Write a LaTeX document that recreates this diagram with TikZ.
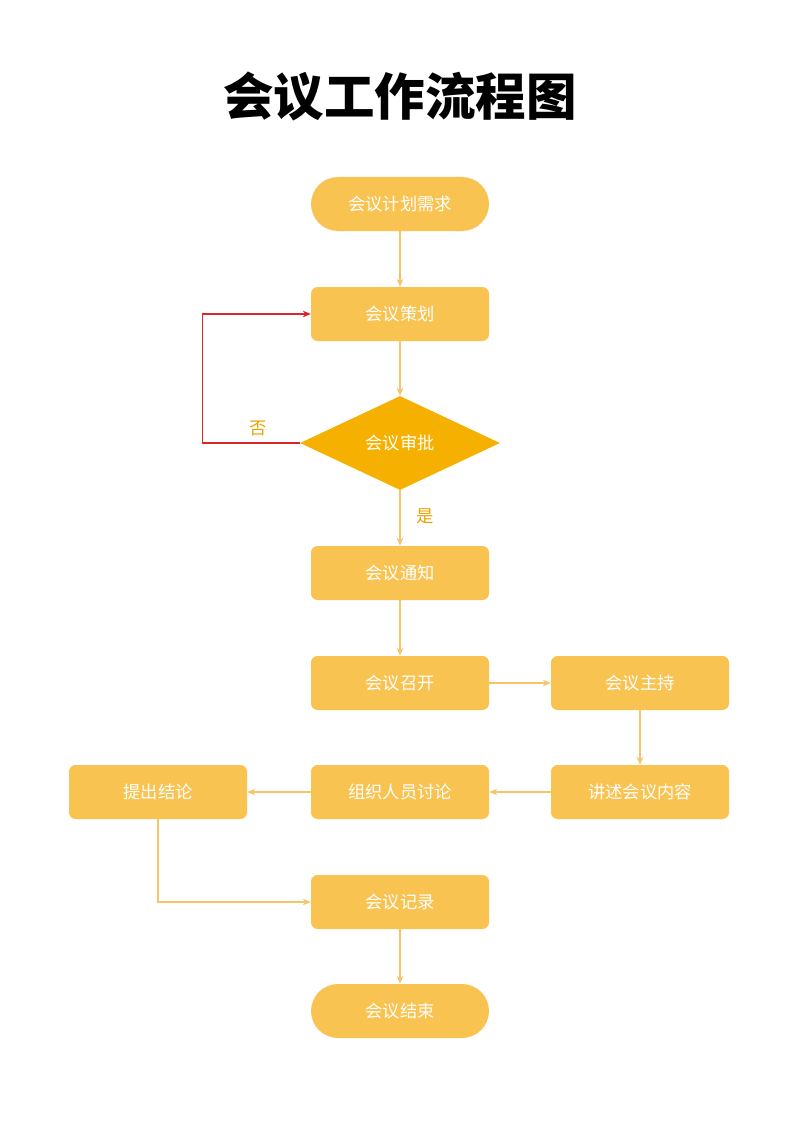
\documentclass[tikz,border=0pt]{standalone}
\usepackage{fontspec}
\setmainfont{Noto Sans CJK SC}
\usetikzlibrary{shapes.geometric, positioning, arrows.meta}
\definecolor{boxyellow}{HTML}{F9C351}
\definecolor{diamondyellow}{HTML}{F6B100}
\definecolor{lineyellow}{HTML}{F5C46B}
\definecolor{labelyellow}{HTML}{E8A100}
\definecolor{loopred}{HTML}{D9262C}

\begin{document}
\begin{tikzpicture}[
  x=0.02646cm, y=-0.02646cm,
  stepbox/.style={
    draw=none,
    fill=boxyellow,
    rounded corners=5pt,
    minimum width=178*0.02646cm,
    minimum height=54*0.02646cm,
    text=white,
    font=\fontsize{13}{15}\selectfont,
  },
  terminal/.style={
    stepbox,
    rounded corners=27*0.02646cm,
  },
  decision/.style={
    diamond,
    fill=diamondyellow,
    text=white,
    aspect=2.13,
    minimum width=200*0.02646cm,
    minimum height=94*0.02646cm,
    inner sep=0pt,
    font=\fontsize{13}{15}\selectfont,
  },
  flow/.style={draw=lineyellow, line width=0.8pt, -{Stealth[length=6pt,width=5pt]}},
  answer/.style={text=labelyellow, font=\fontsize{13}{15}\selectfont},
]
  \useasboundingbox (0,0) rectangle (800,1131);

  % title
  \node[font=\fontsize{38}{42}\selectfont\bfseries] (title) at (400,96) {会议工作流程图};

  % main column
  \node[terminal] (need) at (400,204) {会议计划需求};
  \node[stepbox] (plan) at (400,314) {会议策划};
  \node[decision] (approve) at (400,443) {会议审批};
  \node[stepbox] (notice) at (400,573) {会议通知};
  \node[stepbox] (convene) at (400,683) {会议召开};
  \node[stepbox] (host) at (640,683) {会议主持};
  \node[stepbox] (content) at (640,792) {讲述会议内容};
  \node[stepbox] (discuss) at (400,792) {组织人员讨论};
  \node[stepbox] (conclude) at (158,792) {提出结论};
  \node[stepbox] (record) at (400,902) {会议记录};
  \node[terminal] (finish) at (400,1011) {会议结束};

  % connectors
  \draw[flow] (need) -- (plan);
  \draw[flow] (plan) -- (approve);
  \draw[flow] (approve) -- (notice);
  \draw[flow] (notice) -- (convene);
  \draw[flow] (convene) -- (host);
  \draw[flow] (host) -- (content);
  \draw[flow] (content) -- (discuss);
  \draw[flow] (discuss) -- (conclude);
  \draw[flow] (conclude.south) |- (record.west);
  \draw[flow] (record) -- (finish);
  \draw[flow, draw=loopred] (approve.west) -- ++(-97,0) |- (plan.west);

  % answers
  \node[answer] (no) at (258,428) {否};
  \node[answer] (yes) at (425,516) {是};
\end{tikzpicture}
\end{document}
